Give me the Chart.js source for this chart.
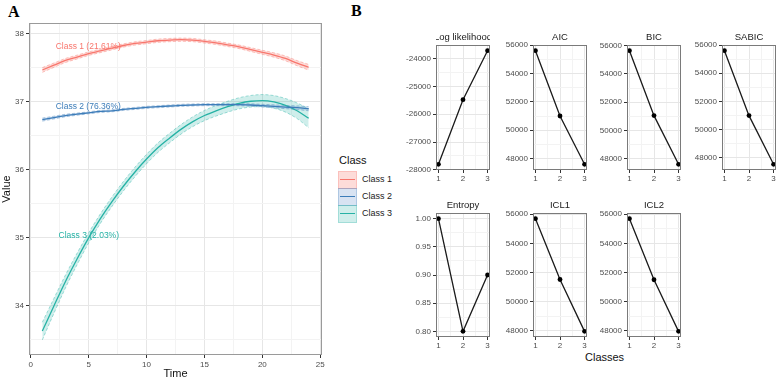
<!DOCTYPE html>
<html><head><meta charset="utf-8">
<script src="https://cdn.jsdelivr.net/npm/chart.js@4.4.1/dist/chart.umd.min.js"></script>
<style>
body{margin:0;background:#fff;width:778px;height:381px;overflow:hidden;position:relative;font-family:"Liberation Sans",Arial,sans-serif;}
canvas{position:absolute;}
.t{position:absolute;white-space:nowrap;line-height:1;}
.key{position:absolute;width:17px;height:16px;}
.key i{position:absolute;left:1px;right:1px;top:7px;height:1.3px;}
</style></head><body>
<div class="t" style="left:8px;top:3px;font:bold 16px 'Liberation Serif',serif;">A</div>
<div class="t" style="left:351px;top:2px;font:bold 16px 'Liberation Serif',serif;">B</div>
<canvas id="cA" width="330" height="381" style="left:0;top:0"></canvas>
<div id="legend"></div>
<div class="t" style="left:585px;top:352px;font-size:11px;color:#111;">Classes</div>
<script>
// ---------- Panel A data ----------
const time = [1,2,3,4,5,6,7,8,9,10,11,12,13,14,15,16,17,18,19,20,21,22,23,24];
const classNames = ['Class 1','Class 2','Class 3'];
const classLabels = ['Class 1 (21.61%)','Class 2 (76.36%)','Class 3 (2.03%)'];
const labelX = [2.15, 2.15, 2.4];
const labelY = [37.81, 36.93, 35.04];
const class1 = [37.47,37.54,37.61,37.66,37.71,37.75,37.79,37.83,37.86,37.88,37.90,37.91,37.915,37.91,37.89,37.87,37.84,37.81,37.77,37.73,37.69,37.64,37.57,37.51];
const class1Lo = [37.435,37.508,37.580,37.632,37.684,37.725,37.765,37.806,37.836,37.856,37.876,37.886,37.891,37.886,37.866,37.845,37.815,37.784,37.742,37.700,37.658,37.605,37.532,37.468];
const class1Hi = [37.505,37.572,37.640,37.688,37.736,37.775,37.815,37.854,37.884,37.904,37.924,37.934,37.939,37.934,37.914,37.895,37.865,37.836,37.798,37.760,37.722,37.675,37.608,37.552];
const class2 = [36.74,36.77,36.80,36.82,36.84,36.86,36.87,36.89,36.905,36.92,36.93,36.94,36.95,36.955,36.96,36.96,36.96,36.96,36.955,36.945,36.935,36.925,36.915,36.90];
const class2Lo = [36.718,36.750,36.782,36.804,36.825,36.845,36.855,36.875,36.890,36.905,36.915,36.925,36.935,36.940,36.945,36.945,36.945,36.944,36.937,36.925,36.913,36.901,36.888,36.870];
const class2Hi = [36.762,36.790,36.818,36.836,36.855,36.875,36.885,36.905,36.920,36.935,36.945,36.955,36.965,36.970,36.975,36.975,36.975,36.976,36.973,36.965,36.957,36.949,36.942,36.930];
const class3 = [33.63,34.00,34.36,34.69,35.00,35.28,35.53,35.76,35.97,36.16,36.33,36.47,36.60,36.71,36.80,36.87,36.93,36.98,37.01,37.02,37.00,36.95,36.87,36.76];
const class3Lo = [33.50,33.89,34.265,34.605,34.925,35.21,35.46,35.69,35.90,36.09,36.26,36.40,36.53,36.638,36.725,36.792,36.85,36.898,36.925,36.932,36.907,36.85,36.755,36.62];
const class3Hi = [33.76,34.11,34.455,34.775,35.075,35.35,35.60,35.83,36.04,36.23,36.40,36.54,36.67,36.782,36.875,36.948,37.01,37.062,37.095,37.108,37.093,37.05,36.985,36.90];
const timeTicks = [0,5,10,15,20,25];
const valueTicks = [34,35,36,37,38];

// ---------- Panel B data ----------
const nClasses = [1,2,3];
const classTicks = [1,2,3];
const logLik = [-27800,-25480,-23720];
const aic = [55600,51000,47600];
const bic = [55650,51050,47600];
const sabic = [55600,51000,47550];
const entropy = [1.00,0.80,0.90];
const icl1 = [55700,51520,47960];
const icl2 = [55700,51500,47950];
const llTicks = [-28000,-27000,-26000,-25000,-24000];
const icTicks = [48000,50000,52000,54000,56000];
const entTicks = [0.80,0.85,0.90,0.95,1.00];

// ---------- styling ----------
const colors = ['#F8766D','#3D7DB9','#26B2A5'];
const edgeColors = ['rgba(248,118,109,0.7)','rgba(61,125,185,0.7)','rgba(38,178,165,0.7)'];
const fills = ['rgba(248,118,109,0.26)','rgba(90,140,200,0.24)','rgba(38,178,165,0.22)'];
const FONT = '"Liberation Sans", Arial, sans-serif';
const tickFont = {family: FONT, size: 8};
const TICKC = '#4d4d4d';

function withMinor(major, min, max) {
  const step = major[1] - major[0];
  const all = [];
  for (let i = -1; i < major.length; i++) {
    if (i >= 0) all.push(major[i]);
    const m = (i >= 0 ? major[i] : major[0] - step) + step / 2;
    all.push(m);
  }
  return all.filter(v => v >= min - 1e-9 && v <= max + 1e-9).sort((a,b)=>a-b);
}
function isMajor(major, v) { return major.some(m => Math.abs(m - v) < 1e-7); }
function expand(arrs) {
  const flat = [].concat(...arrs);
  const lo = Math.min(...flat), hi = Math.max(...flat), p = (hi - lo) * 0.05;
  return [lo - p, hi + p];
}
function gridOpts(major) {
  return {
    color: c => (c.tick && isMajor(major, c.tick.value)) ? '#e6e6e6' : '#f3f3f3',
    lineWidth: 1,
    drawTicks: true,
    tickLength: 3,
    tickColor: c => (c.tick && isMajor(major, c.tick.value)) ? '#333333' : 'rgba(0,0,0,0)'
  };
}
const framePlugin = {
  id: 'frame',
  afterDatasetsDraw(chart, args, opts) {
    const a = chart.chartArea, ctx = chart.ctx;
    ctx.save();
    ctx.strokeStyle = opts.color || '#888';
    ctx.lineWidth = 1;
    ctx.strokeRect(Math.round(a.left) + 0.5, Math.round(a.top) + 0.5, Math.round(a.right - a.left) - 1, Math.round(a.bottom - a.top) - 1);
    ctx.restore();
  }
};

// ---------- Panel A ----------
const [axMin, axMax] = expand([time]);
const [ayMin, ayMax] = expand([class1Lo, class1Hi, class2Lo, class2Hi, class3Lo, class3Hi]);
const timeAll = withMinor(timeTicks, axMin, axMax);
const valueAll = withMinor(valueTicks, ayMin, ayMax);
const pts = arr => time.map((t, i) => ({x: t, y: arr[i]}));
const means = [class1, class2, class3], los = [class1Lo, class2Lo, class3Lo], his = [class1Hi, class2Hi, class3Hi];
const dsA = [];
for (let k = 0; k < 3; k++) {
  dsA.push({label: classNames[k] + ' lo', data: pts(los[k]), borderColor: edgeColors[k], borderWidth: 0.6, borderDash: [3,2], pointRadius: 0, fill: false, order: 2 + k, cubicInterpolationMode: 'monotone'});
  dsA.push({label: classNames[k] + ' hi', data: pts(his[k]), borderColor: edgeColors[k], borderWidth: 0.6, borderDash: [3,2], pointRadius: 0, fill: '-1', backgroundColor: fills[k], order: 2 + k, cubicInterpolationMode: 'monotone'});
}
for (let k = 0; k < 3; k++) {
  dsA.push({label: classNames[k], data: pts(means[k]), borderColor: colors[k], borderWidth: 1.3, pointRadius: 0, fill: false, order: 1, cubicInterpolationMode: 'monotone'});
}
const textPlugin = {
  id: 'classText',
  afterDatasetsDraw(chart) {
    const ctx = chart.ctx, xs = chart.scales.x, ys = chart.scales.y;
    ctx.save();
    ctx.font = '8.5px ' + FONT;
    ctx.textAlign = 'left'; ctx.textBaseline = 'middle';
    for (let k = 0; k < 3; k++) {
      ctx.fillStyle = colors[k];
      ctx.fillText(classLabels[k], xs.getPixelForValue(labelX[k]), ys.getPixelForValue(labelY[k]));
    }
    ctx.restore();
  }
};
new Chart(document.getElementById('cA'), {
  type: 'line',
  data: {datasets: dsA},
  options: {
    responsive: false, animation: false, devicePixelRatio: 1,
    layout: {padding: {top: 23, right: 8, left: 0, bottom: 0}},
    plugins: {legend: {display: false}, tooltip: {enabled: false}, frame: {color: '#9a9a9a'}},
    scales: {
      x: {type: 'linear', min: axMin, max: axMax,
        afterBuildTicks: s => { s.ticks = timeAll.map(v => ({value: v})); },
        afterFit: s => { s.height = 26; },
        ticks: {autoSkip: false, maxRotation: 0, padding: 2, font: tickFont, color: TICKC,
          callback: v => isMajor(timeTicks, v) ? String(v) : ''},
        grid: gridOpts(timeTicks), border: {display: false},
        title: {display: true, text: 'Time', font: {family: FONT, size: 11}, color: '#111', padding: 0}},
      y: {type: 'linear', min: ayMin, max: ayMax,
        afterBuildTicks: s => { s.ticks = valueAll.map(v => ({value: v})); },
        afterFit: s => { s.width = 29; },
        ticks: {autoSkip: false, padding: 2, font: tickFont, color: TICKC,
          callback: v => isMajor(valueTicks, v) ? String(Math.round(v)) : ''},
        grid: gridOpts(valueTicks), border: {display: false},
        title: {display: true, text: 'Value', font: {family: FONT, size: 11}, color: '#111', padding: 0}}
    }
  },
  plugins: [framePlugin, textPlugin]
});

// legend (HTML)
(function(){
  const lg = document.getElementById('legend');
  let h = '<div class="t" style="left:339px;top:155px;font-size:11px;color:#111;">Class</div>';
  for (let k = 0; k < 3; k++) {
    const top = 171 + k * 17;
    h += `<div class="key" style="left:338px;top:${top}px;background:${fills[k]};border:1px solid ${colors[k]}44;"><i style="background:${colors[k]}"></i></div>`;
    h += `<div class="t" style="left:362px;top:${top + 4}px;font-size:9px;color:#222;">${classNames[k]}</div>`;
  }
  lg.innerHTML = h;
})();

// ---------- Panel B ----------
const titlePlugin = {
  id: 'stripTitle',
  afterDraw(chart, args, opts) {
    const a = chart.chartArea, ctx = chart.ctx;
    ctx.save();
    ctx.beginPath(); ctx.rect(a.left, 0, a.right - a.left, a.top); ctx.clip();
    ctx.font = '9.5px ' + FONT; ctx.fillStyle = '#1a1a1a';
    ctx.textAlign = 'center'; ctx.textBaseline = 'middle';
    ctx.fillText(opts.text, (a.left + a.right) / 2, a.top - 8);
    ctx.restore();
  }
};
const xAllB = withMinor(classTicks, 0.9, 3.1);
function panel(title, values, majors, decimals, left, top, h) {
  const c = document.createElement('canvas');
  const W = 45 + 55 + 3, H = 20 + h + 16;
  c.width = W; c.height = H;
  c.style.left = (left - 45) + 'px'; c.style.top = (top - 20) + 'px';
  document.body.appendChild(c);
  const [mn, mx] = expand([values]);
  const yAll = withMinor(majors, mn, mx);
  new Chart(c, {
    type: 'line',
    data: {datasets: [{data: nClasses.map((n, i) => ({x: n, y: values[i]})), borderColor: '#1a1a1a', borderWidth: 1.3,
      pointRadius: 2.4, pointBackgroundColor: '#000', pointBorderWidth: 0, fill: false, tension: 0}]},
    options: {
      responsive: false, animation: false, devicePixelRatio: 1,
      layout: {padding: {top: 20, right: 3, left: 0, bottom: 0}},
      plugins: {legend: {display: false}, tooltip: {enabled: false}, stripTitle: {text: title}, frame: {color: '#7a7a7a'}},
      scales: {
        x: {type: 'linear', min: 0.9, max: 3.1,
          afterBuildTicks: s => { s.ticks = xAllB.map(v => ({value: v})); },
          afterFit: s => { s.height = 16; },
          ticks: {autoSkip: false, maxRotation: 0, padding: 1, font: tickFont, color: TICKC,
            callback: v => isMajor(classTicks, v) ? String(Math.round(v)) : ''},
          grid: gridOpts(classTicks), border: {display: false}},
        y: {type: 'linear', min: mn, max: mx,
          afterBuildTicks: s => { s.ticks = yAll.map(v => ({value: v})); },
          afterFit: s => { s.width = 45; },
          ticks: {autoSkip: false, padding: 2, font: tickFont, color: TICKC,
            callback: v => isMajor(majors, v) ? v.toFixed(decimals) : ''},
          grid: gridOpts(majors), border: {display: false}}
      }
    },
    plugins: [framePlugin, titlePlugin]
  });
}
panel('Log likelihood', logLik, llTicks, 0, 436, 45, 125);
panel('AIC', aic, icTicks, 0, 533, 45, 125);
panel('BIC', bic, icTicks, 0, 627, 45, 125);
panel('SABIC', sabic, icTicks, 0, 722, 45, 125);
panel('Entropy', entropy, entTicks, 2, 436, 213, 124);
panel('ICL1', icl1, icTicks, 0, 533, 213, 124);
panel('ICL2', icl2, icTicks, 0, 627, 213, 124);
</script>
</body></html>
